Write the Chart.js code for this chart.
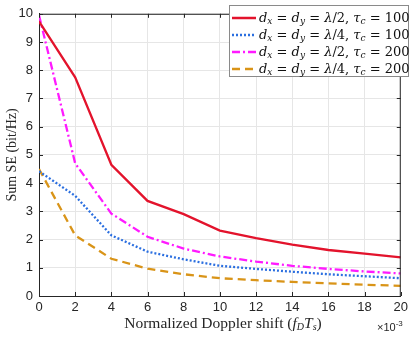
<!DOCTYPE html>
<html lang="en">
<head>
  <meta charset="UTF-8">
  <title>Sum SE vs Doppler</title>
  <script src="https://cdn.jsdelivr.net/npm/chart.js"></script>
  <style>
    html, body { margin: 0; padding: 0; background: #fff; }
    #wrap { position: relative; width: 412px; height: 338px; }
    #legend {
      position: absolute; left: 229px; top: 5px; width: 180px; height: 72px;
      border: 1px solid #8a8a8a; background: #fff; box-sizing: border-box;
      font-family: "DejaVu Serif", "Liberation Serif", serif; font-size: 13px; color: #111;
      padding-top: 3px;
    }
    .row { height: 17px; display: flex; align-items: center; white-space: nowrap; }
    .row svg { margin-left: 2px; margin-right: 3px; flex: none; }
    .row i { font-style: italic; }
    .row sub { font-size: 9px; vertical-align: -2px; font-style: italic; }
    #xtitle {
      position: absolute; left: 39px; width: 368px; top: 314px; text-align: center;
      font-family: "Liberation Serif", serif; font-size: 15.5px; color: #262626; white-space: nowrap;
    }
    #xtitle i { font-style: italic; }
    #xtitle sub { font-size: 10px; font-style: italic; vertical-align: -2px; }
    #exp { position: absolute; left: 377px; top: 319px; font-family: "Liberation Sans", Arial, sans-serif; font-size: 11px; color: #262626; }
    #exp sup { font-size: 8px; }
  </style>
</head>
<body>
<div id="wrap">
  <canvas id="seChart" width="412" height="338"></canvas>
  <div id="legend"></div>
  <div id="xtitle">Normalized Doppler shift (<i>f</i><sub>D</sub><i>T</i><sub>s</sub>)</div>
  <div id="exp">&times;10<sup>-3</sup></div>
</div>
<script>
  const dopplerTicks = [0, 2, 4, 6, 8, 10, 12, 14, 16, 18, 20];
  const half100 = [9.73, 7.75, 4.65, 3.37, 2.9, 2.32, 2.05, 1.82, 1.63, 1.5, 1.37];
  const quarter100 = [4.42, 3.55, 2.15, 1.57, 1.3, 1.07, 0.96, 0.86, 0.77, 0.7, 0.63];
  const half200 = [9.95, 4.7, 2.92, 2.1, 1.68, 1.4, 1.22, 1.07, 0.96, 0.87, 0.8];
  const quarter200 = [4.5, 2.15, 1.32, 0.97, 0.77, 0.63, 0.56, 0.5, 0.45, 0.4, 0.36];

  const seriesInfo = [
    { data: half100, color: '#e3132c', dash: [], lam: '2', tau: '100' },
    { data: quarter100, color: '#2b6fe0', dash: [2, 2], lam: '4', tau: '100' },
    { data: half200, color: '#ff1aff', dash: [8, 3, 2, 3], lam: '2', tau: '200' },
    { data: quarter200, color: '#d99418', dash: [8, 5], lam: '4', tau: '200' }
  ];

  const legendDiv = document.getElementById('legend');
  seriesInfo.forEach(s => {
    const row = document.createElement('div');
    row.className = 'row';
    row.innerHTML = `<svg width="24" height="6"><line x1="0" y1="3" x2="24" y2="3" stroke="${s.color}" stroke-width="2.5" stroke-dasharray="${s.dash.join(' ')}"/></svg>` +
      `<span><i>d</i><sub>x</sub> = <i>d</i><sub>y</sub> = <i>λ</i>/${s.lam}, <i>τ</i><sub>c</sub> = ${s.tau}</span>`;
    legendDiv.appendChild(row);
  });

  const boxPlugin = {
    id: 'boxPlugin',
    afterDatasetsDraw(chart) {
      const { ctx, chartArea: a, scales } = chart;
      ctx.save();
      ctx.strokeStyle = '#262626';
      ctx.lineWidth = 1;
      ctx.beginPath();
      ctx.moveTo(a.left, a.top + 0.5); ctx.lineTo(a.right, a.top + 0.5);
      ctx.moveTo(a.right - 0.5, a.top); ctx.lineTo(a.right - 0.5, a.bottom);
      dopplerTicks.forEach(v => {
        const x = Math.round(scales.x.getPixelForValue(v)) + 0.5;
        ctx.moveTo(x, a.top); ctx.lineTo(x, a.top + 4);
        ctx.moveTo(x, a.bottom); ctx.lineTo(x, a.bottom - 4);
      });
      for (let v = 0; v <= 10; v++) {
        const y = Math.round(scales.y.getPixelForValue(v)) + 0.5;
        ctx.moveTo(a.right, y); ctx.lineTo(a.right - 4, y);
        ctx.moveTo(a.left, y); ctx.lineTo(a.left + 4, y);
      }
      ctx.stroke();
      ctx.restore();
    }
  };

  new Chart(document.getElementById('seChart'), {
    type: 'line',
    data: {
      datasets: seriesInfo.map(s => ({
        data: s.data.map((v, i) => ({ x: dopplerTicks[i], y: v })),
        borderColor: s.color,
        borderWidth: 2.3,
        borderDash: s.dash,
        pointRadius: 0,
        tension: 0,
        fill: false
      }))
    },
    options: {
      responsive: false,
      animation: false,
      layout: { padding: { top: 4, right: 5, left: 0, bottom: 0 } },
      plugins: { legend: { display: false }, tooltip: { enabled: false } },
      scales: {
        x: {
          type: 'linear', min: 0, max: 20,
          afterBuildTicks: s => { s.ticks = dopplerTicks.map(v => ({ value: v })); },
          afterFit: s => { s.height = 42; },
          grid: { color: '#e6e6e6', drawTicks: false },
          border: { color: '#262626' },
          ticks: { color: '#262626', padding: 4, maxRotation: 0, font: { family: 'Liberation Sans', size: 13 } },
          title: { display: false }
        },
        y: {
          type: 'linear', min: 0, max: 10,
          afterFit: s => { s.width = 39; },
          grid: { color: '#e6e6e6', drawTicks: false },
          border: { color: '#262626' },
          ticks: { stepSize: 1, color: '#262626', padding: 6, font: { family: 'Liberation Sans', size: 13 } },
          title: { display: true, text: 'Sum SE (bit/Hz)', color: '#262626', padding: { top: 4, bottom: 0 }, font: { family: 'Liberation Serif', size: 14 } }
        }
      }
    },
    plugins: [boxPlugin]
  });
</script>
</body>
</html>
